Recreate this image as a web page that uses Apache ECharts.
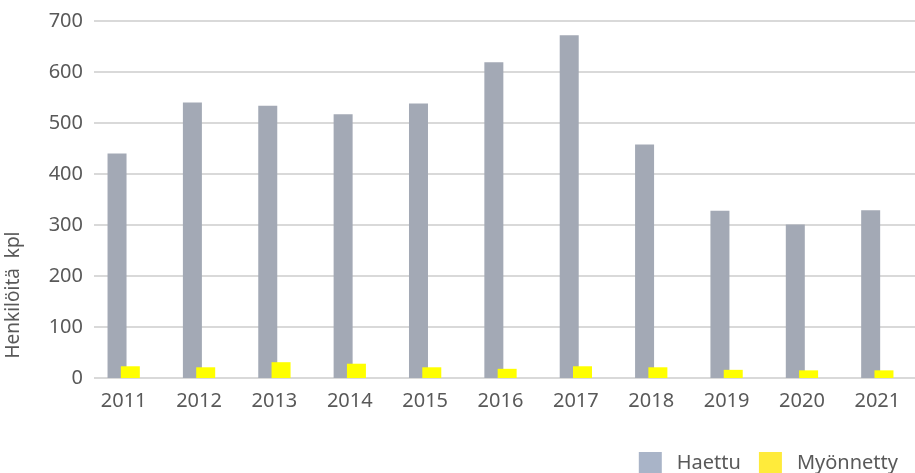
<!DOCTYPE html>
<html>
<head>
<meta charset="utf-8">
<script src="https://cdn.jsdelivr.net/npm/echarts@6/dist/echarts.min.js"></script>
<style>
    html, body {margin: 0; padding: 0; background: #fff;}
    #chart {width: 915px; height: 473px;}
</style>
</head>
<body>
<div id="chart"></div>
<script>
    const years = ['2011', '2012', '2013', '2014', '2015', '2016', '2017', '2018', '2019', '2020', '2021'];
    const haettu = [440, 540, 534, 517, 538, 619, 672, 458, 328, 301, 329];
    const myonnetty = [23, 21, 31, 28, 21, 18, 23, 21, 16, 15, 15];
    const yTicks = {min: 0, max: 700, interval: 100};

    const font = '"Noto Sans", sans-serif';
    const textColor = '#595959';
    const myChart = echarts.init(document.getElementById('chart'));

    myChart.setOption({
        animation: false,
        textStyle: {fontFamily: font, color: textColor},
        grid: [
            {left: 86, right: 0, top: 21, bottom: 95},
            {left: 94, right: 0, top: 21, bottom: 95}
        ],
        legend: {
            right: 12,
            top: 447,
            icon: 'rect',
            itemWidth: 23,
            itemHeight: 23,
            itemGap: 18,
            textStyle: {fontSize: 20, color: textColor, fontFamily: font, padding: [0, 0, 0, 10]},
            data: [
                {name: 'Haettu', itemStyle: {color: '#A9B4C8'}},
                {name: 'Myönnetty', itemStyle: {color: '#FFEB3B'}}
            ]
        },
        xAxis: [
            {
                gridIndex: 0,
                type: 'category',
                data: years,
                axisLine: {show: false},
                axisTick: {show: false},
                axisLabel: {fontSize: 20, color: textColor, margin: 13}
            },
            {
                gridIndex: 1,
                type: 'category',
                data: years,
                show: false
            }
        ],
        yAxis: [
            {
                gridIndex: 0,
                type: 'value',
                min: yTicks.min,
                max: yTicks.max,
                interval: yTicks.interval,
                axisLabel: {show: false},
                axisLine: {show: false},
                axisTick: {show: false},
                splitLine: {show: false}
            },
            {
                gridIndex: 1,
                type: 'value',
                min: yTicks.min,
                max: yTicks.max,
                interval: yTicks.interval,
                axisLine: {show: false},
                axisTick: {show: false},
                axisLabel: {fontSize: 20, color: textColor, margin: 11},
                splitLine: {lineStyle: {color: '#D9D9D9', width: 2}}
            }
        ],
        graphic: [{
            type: 'text',
            x: 14,
            y: 295,
            rotation: Math.PI / 2,
            style: {
                text: 'Henkilöitä  kpl',
                fontSize: 19,
                fontFamily: font,
                fill: textColor,
                align: 'center',
                verticalAlign: 'middle'
            }
        }],
        series: [
            {
                name: 'Haettu',
                type: 'bar',
                xAxisIndex: 0,
                yAxisIndex: 0,
                barWidth: 19,
                barGap: '-30%',
                itemStyle: {color: '#A3A9B5'},
                data: haettu
            },
            {
                name: 'Myönnetty',
                type: 'bar',
                xAxisIndex: 0,
                yAxisIndex: 0,
                barWidth: 19,
                barGap: '-30%',
                itemStyle: {color: '#FFFF00'},
                data: myonnetty
            }
        ]
    });
</script>
</body>
</html>
